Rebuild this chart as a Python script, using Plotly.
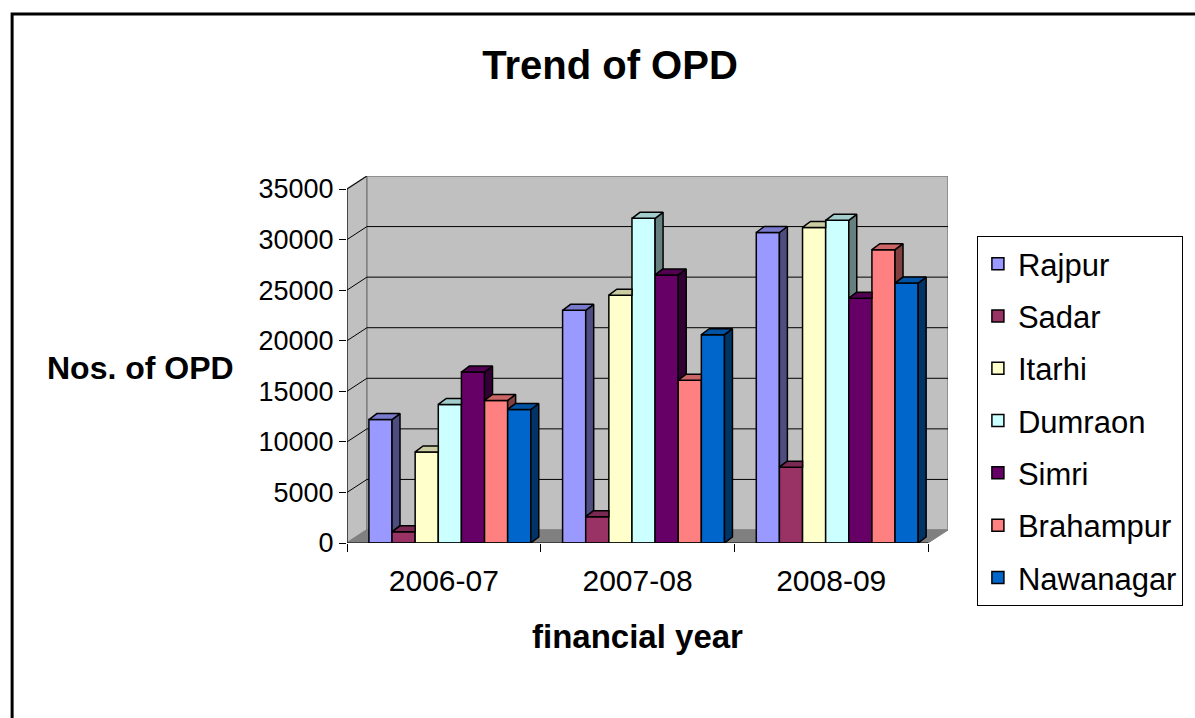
import plotly.graph_objects as go

# ---- data -------------------------------------------------------------
years = ["2006-07", "2007-08", "2008-09"]
centres = ["Rajpur", "Sadar", "Itarhi", "Dumraon", "Simri", "Brahampur", "Nawanagar"]

rajpur = [12200, 23000, 30700]
sadar = [1100, 2600, 7500]
itarhi = [9000, 24500, 31200]
dumraon = [13700, 32100, 31900]
simri = [16900, 26500, 24200]
brahampur = [14100, 16100, 29000]
nawanagar = [13200, 20600, 25700]

y_ticks = [0, 5000, 10000, 15000, 20000, 25000, 30000, 35000]

series = [rajpur, sadar, itarhi, dumraon, simri, brahampur, nawanagar]

front_colors = ["#9999FF", "#993366", "#FFFFCC", "#CCFFFF", "#660066", "#FF8080", "#0066CC"]
top_colors = ["#7A7ACC", "#7A2952", "#CCCCA3", "#A3CCCC", "#520052", "#CC6666", "#0052A3"]
side_colors = ["#4D4D80", "#4D1A33", "#808066", "#668080", "#330033", "#804040", "#003366"]

FONT = "Liberation Sans, Arial, sans-serif"

# ---- geometry of the plotting box (pixels) ----------------------------
FIG_W, FIG_H = 1195, 718
PLOT_L, PLOT_R, PLOT_T, PLOT_B = 347, 950, 176, 543
FRONT_R = 930                       # right end of the front floor edge
TOP_TICK_PX = 189                   # pixel row of the highest tick

px_per_cat = (FRONT_R - PLOT_L) / len(years)
units_per_px = y_ticks[-1] / (PLOT_B - TOP_TICK_PX)

wall_dx = (PLOT_R - FRONT_R) / px_per_cat
wall_dy = (TOP_TICK_PX - PLOT_T) * units_per_px

x_lo = -0.5
x_hi = len(years) - 0.5 + wall_dx
y_hi = y_ticks[-1] + wall_dy

# bar layout
group_shift = 0.031
bar_w = 0.1194
group_w = bar_w * len(centres)
bar_dx = 8 / px_per_cat
bar_dy = 6 * units_per_px


def px_to_paper_x(p):
    return (p - PLOT_L) / (PLOT_R - PLOT_L)


def px_to_paper_y(p):
    return (PLOT_B - p) / (PLOT_B - PLOT_T)


fig = go.Figure()

# front faces of the columns
for j, (name, vals) in enumerate(zip(centres, series)):
    fig.add_trace(go.Bar(
        name=name,
        legendgroup=name,
        x=[i + group_shift for i in range(len(years))],
        y=vals,
        width=bar_w,
        offset=-group_w / 2 + j * bar_w,
        marker=dict(color=front_colors[j], line=dict(color="black", width=1.5)),
        hovertemplate=name + " %{customdata}: %{y}<extra></extra>",
        customdata=years,
    ))


def top_face(xl, xr, v, v_next):
    c = v if v_next is None else min(max(v_next, v), v + bar_dy)
    xs = [xl, xr, xr, xr + bar_dx * (v + bar_dy - c) / bar_dy, xl + bar_dx, xl]
    ys = [v, v, c, v + bar_dy, v + bar_dy, v]
    return xs, ys


def side_face(xr, v, v_next):
    lo = 0 if v_next is None else v_next
    if lo >= v:
        return None
    xs = [xr, xr + bar_dx, xr + bar_dx, xr, xr]
    ys = [lo, lo + bar_dy, v + bar_dy, v, lo]
    return xs, ys


# top and right-hand faces, trimmed where the neighbouring column hides them
for i in range(len(years)):
    for j, vals in enumerate(series):
        v = vals[i]
        v_next = series[j + 1][i] if j + 1 < len(series) else None
        xl = i + group_shift - group_w / 2 + j * bar_w
        xr = xl + bar_w
        side = side_face(xr, v, v_next)
        if side is not None:
            fig.add_trace(go.Scatter(
                x=side[0], y=side[1], mode="lines", fill="toself",
                fillcolor=side_colors[j], line=dict(color="black", width=1.5),
                showlegend=False, hoverinfo="skip",
            ))
        tx, ty = top_face(xl, xr, v, v_next)
        fig.add_trace(go.Scatter(
            x=tx, y=ty, mode="lines", fill="toself",
            fillcolor=top_colors[j], line=dict(color="black", width=1.5),
            showlegend=False, hoverinfo="skip",
        ))

# ---- walls, floor and grid -------------------------------------------
def path(pts):
    return "M " + " L ".join(f"{x},{y}" for x, y in pts) + " Z"


front_r = len(years) - 0.5
shapes = [
    # side wall
    dict(type="path", xref="x", yref="y", layer="below",
         path=path([(x_lo, 0), (x_lo + wall_dx, wall_dy), (x_lo + wall_dx, y_hi), (x_lo, y_ticks[-1])]),
         fillcolor="#C0C0C0", line=dict(color="#808080", width=1.5)),
    # back wall
    dict(type="path", xref="x", yref="y", layer="below",
         path=path([(x_lo + wall_dx, wall_dy), (x_hi, wall_dy), (x_hi, y_hi), (x_lo + wall_dx, y_hi)]),
         fillcolor="#C0C0C0", line=dict(color="#808080", width=1.5)),
    # floor
    dict(type="path", xref="x", yref="y", layer="below",
         path=path([(x_lo, 0), (front_r, 0), (x_hi, wall_dy), (x_lo + wall_dx, wall_dy)]),
         fillcolor="#808080", line=dict(color="#808080", width=1)),
]
for t in y_ticks[1:-1]:
    shapes.append(dict(type="line", xref="x", yref="y", layer="below",
                       x0=x_lo + wall_dx, x1=x_hi, y0=t + wall_dy, y1=t + wall_dy,
                       line=dict(color="black", width=1)))
for t in y_ticks[1:]:
    shapes.append(dict(type="line", xref="x", yref="y", layer="below",
                       x0=x_lo, x1=x_lo + wall_dx, y0=t, y1=t + wall_dy,
                       line=dict(color="black", width=1)))
# axis lines
shapes.append(dict(type="line", xref="x", yref="y", x0=x_lo, x1=x_lo, y0=0, y1=y_ticks[-1],
                   line=dict(color="black", width=1)))
shapes.append(dict(type="line", xref="x", yref="y", x0=x_lo, x1=front_r, y0=0, y1=0,
                   line=dict(color="black", width=1)))
# chart frame
shapes.append(dict(type="rect", xref="paper", yref="paper",
                   x0=px_to_paper_x(11), x1=px_to_paper_x(1215),
                   y0=px_to_paper_y(735), y1=px_to_paper_y(14),
                   line=dict(color="black", width=3)))

annotations = [
    dict(text="<b>Nos. of OPD</b>", xref="paper", yref="paper",
         x=px_to_paper_x(140), y=px_to_paper_y(368), xanchor="center", yanchor="middle",
         showarrow=False, font=dict(family=FONT, size=32, color="black")),
    dict(text="<b>financial year</b>", xref="paper", yref="paper",
         x=px_to_paper_x(638), y=px_to_paper_y(636), xanchor="center", yanchor="middle",
         showarrow=False, font=dict(family=FONT, size=33, color="black")),
]

fig.update_layout(
    width=FIG_W, height=FIG_H, autosize=False,
    margin=dict(l=PLOT_L, r=FIG_W - PLOT_R, t=PLOT_T, b=FIG_H - PLOT_B, pad=0),
    paper_bgcolor="white", plot_bgcolor="rgba(0,0,0,0)",
    barmode="overlay",
    title=dict(text="<b>Trend of OPD</b>", x=610 / FIG_W, xanchor="center",
               y=1 - 65 / FIG_H, yanchor="middle", xref="container", yref="container",
               font=dict(family=FONT, size=40, color="black")),
    xaxis=dict(range=[x_lo, x_hi], tickmode="array", tickvals=list(range(len(years))),
               ticktext=years, ticks="outside", ticklen=11, tickcolor="rgba(0,0,0,0)",
               minor=dict(tickmode="array", tickvals=[k - 0.5 for k in range(len(years) + 1)],
                          ticks="outside", ticklen=8, tickcolor="black", tickwidth=1, showgrid=False),
               showgrid=False, zeroline=False, showline=False,
               tickfont=dict(family=FONT, size=30, color="black"), fixedrange=True),
    yaxis=dict(range=[0, y_hi], tickmode="array", tickvals=y_ticks,
               ticktext=[str(t) for t in y_ticks], ticks="outside", ticklen=7,
               tickcolor="black", tickwidth=1, showgrid=False, zeroline=False, showline=False,
               tickfont=dict(family=FONT, size=27, color="black"), fixedrange=True),
    legend=dict(x=px_to_paper_x(979), y=px_to_paper_y(236), xanchor="left", yanchor="top",
                bordercolor="black", borderwidth=1, bgcolor="white",
                font=dict(family=FONT, size=31, color="black"),
                tracegroupgap=9, itemwidth=30, maxheight=700),
    shapes=shapes,
    annotations=annotations,
)

fig.write_html("out.html")
